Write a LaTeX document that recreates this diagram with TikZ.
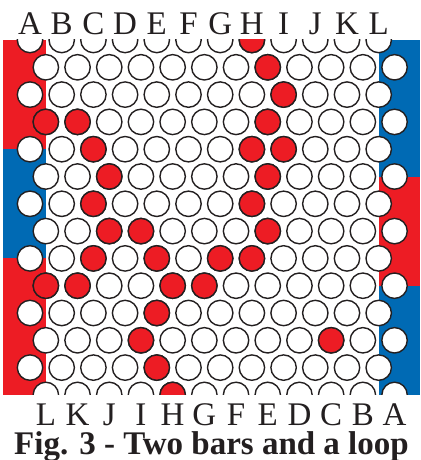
\documentclass[tikz,border=0pt]{standalone}
\usepackage{fontspec}
\setmainfont{Liberation Serif}
\definecolor{boardred}{RGB}{237,28,36}
\definecolor{boardblue}{RGB}{0,106,180}
\definecolor{rim}{RGB}{35,31,32}
\tikzset{
  hole/.style={draw=rim, line width=1.4pt, fill=white},
  peg/.style={hole, fill=boardred},
  letter/.style={text=rim, font=\fontsize{33}{33}\selectfont, anchor=base, inner sep=0pt, text depth=0pt},
}
\newcommand{\colstep}{31.7}
\newcommand{\rowstep}{27.3}

\begin{document}
\begin{tikzpicture}[x=1pt, y=-1pt]
  \useasboundingbox (0,0) rectangle (420,460);
  % side bands
  \fill[boardred] (3,40) rectangle (45.85,149.2);
  \fill[boardblue] (3,149.2) rectangle (45.85,258.4);
  \fill[boardred] (3,258.4) rectangle (45.85,394.9);
  \fill[boardblue] (378.7,40) rectangle (420,176.5);
  \fill[boardred] (378.7,176.5) rectangle (420,285.7);
  \fill[boardblue] (378.7,285.7) rectangle (420,394.9);
  % holes and pegs
  \begin{scope}
    \clip (3,40) rectangle (420,394.9);
    \foreach \r in {0,...,13} {
      \foreach \c in {0,...,11} {
        \pgfmathsetmacro{\cx}{30+\colstep*\c+isodd(\r)*\colstep/2}
        \pgfmathsetmacro{\cy}{40+\rowstep*\r}
        \draw[hole] (\cx,\cy) circle (12.7);
      }
    }
    \foreach \c/\r in {7/0, 7/1, 8/2, 0/3, 1/3, 7/3, 2/4, 7/4, 8/4,
                       2/5, 7/5, 2/6, 7/6, 2/7, 3/7, 7/7,
                       2/8, 4/8, 6/8, 7/8, 0/9, 1/9, 4/9, 5/9,
                       4/10, 3/11, 9/11, 4/12, 4/13} {
      \pgfmathsetmacro{\cx}{30+\colstep*\c+isodd(\r)*\colstep/2}
      \pgfmathsetmacro{\cy}{40+\rowstep*\r}
      \draw[peg] (\cx,\cy) circle (12.7);
    }
  \end{scope}
  % edge letters
  \foreach \l [count=\i from 0] in {A,B,C,D,E,F,G,H,I,J,K,L}
    \node[letter] (top\l) at ({30+\colstep*\i},35) {\l};
  \foreach \l [count=\i from 0] in {L,K,J,I,H,G,F,E,D,C,B,A}
    \node[letter] (bot\l) at ({45.85+\colstep*\i},425) {\l};
  \node[letter, text height=22pt, font=\bfseries\fontsize{33}{33}\selectfont] (caption) at (211.5,454) {Fig. 3 - Two bars and a loop};
\end{tikzpicture}
\end{document}
